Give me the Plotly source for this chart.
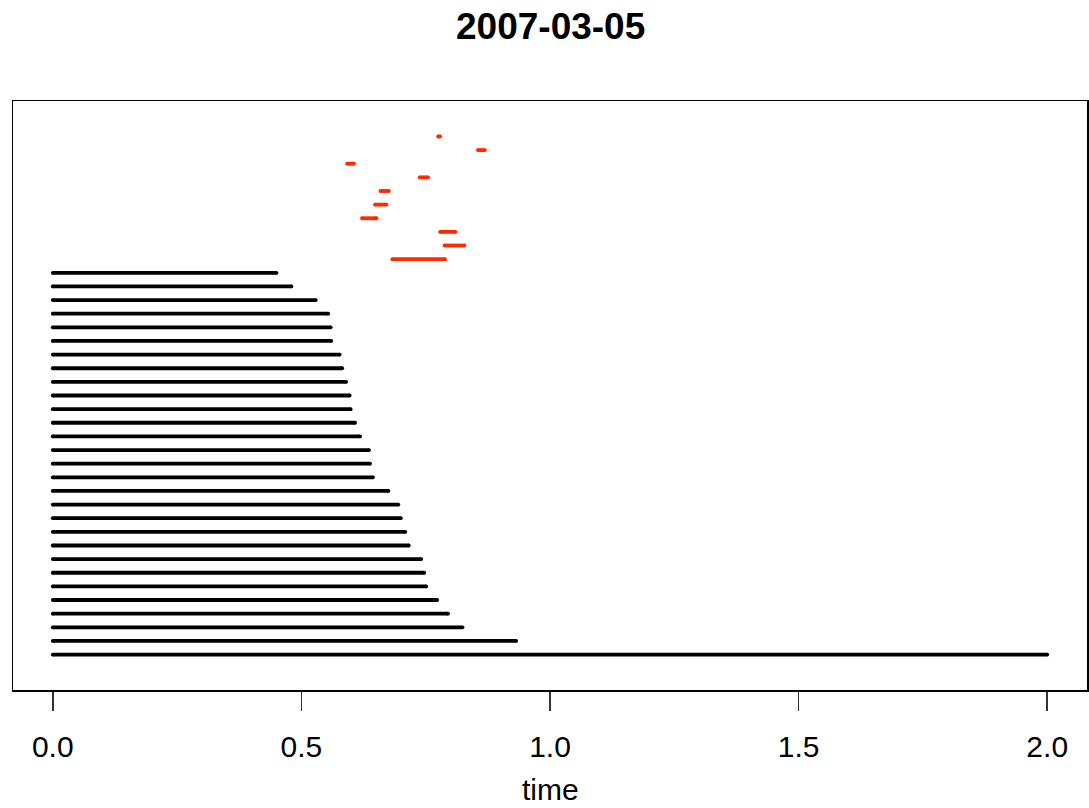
import plotly.graph_objects as go

# Black segments: all start at time 0, one per level (levels 1..29, bottom to top)
black_levels = list(range(1, 30))
black_start = [0.0] * 29
black_end = [2.0, 0.932, 0.824, 0.795, 0.773, 0.751, 0.747, 0.741, 0.716, 0.709,
             0.700, 0.695, 0.675, 0.644, 0.638, 0.636, 0.618, 0.608, 0.599, 0.597,
             0.590, 0.582, 0.577, 0.560, 0.559, 0.554, 0.529, 0.480, 0.450]

# Red segments (levels 30..39)
red_levels = list(range(30, 40))
red_start = [0.683, 0.788, 0.779, 0.622, 0.648, 0.659, 0.738, 0.592, 0.855, 0.775]
red_end = [0.789, 0.828, 0.810, 0.651, 0.671, 0.676, 0.755, 0.606, 0.869, 0.779]

x_ticks = [0.0, 0.5, 1.0, 1.5, 2.0]
x_ticklabels = ["0.0", "0.5", "1.0", "1.5", "2.0"]

title_text = "2007-03-05"
xlabel_text = "time"

LW = 3.8
BLACK = "#000000"
RED = "#FF2A00"


def seg_xy(starts, ends, levels):
    xs, ys, mx, my = [], [], [], []
    for s, e, l in zip(starts, ends, levels):
        xs += [s, e, None]
        ys += [l, l, None]
        mx += [s, e]
        my += [l, l]
    return xs, ys, mx, my


fig = go.Figure()
for starts, ends, levels, col in [(black_start, black_end, black_levels, BLACK),
                                  (red_start, red_end, red_levels, RED)]:
    xs, ys, mx, my = seg_xy(starts, ends, levels)
    fig.add_trace(go.Scatter(x=xs, y=ys, mode="lines",
                             line=dict(color=col, width=LW),
                             hoverinfo="skip", showlegend=False))
    # round caps
    fig.add_trace(go.Scatter(x=mx, y=my, mode="markers",
                             marker=dict(color=col, size=LW, line=dict(width=0)),
                             hoverinfo="skip", showlegend=False))

PH = 589  # plot height in px
fig.update_layout(
    width=1089, height=808,
    margin=dict(l=13, r=2, t=101, b=118, autoexpand=False),
    paper_bgcolor="white", plot_bgcolor="white",
    font=dict(family="Liberation Sans, Arial, Helvetica, sans-serif", color="black"),
    showlegend=False,
    xaxis=dict(range=[-0.08, 2.08], tickvals=x_ticks, ticktext=x_ticklabels,
               ticks="outside", ticklen=19, tickwidth=1.5, tickcolor="#333333",
               tickfont=dict(size=30, color="black"), ticklabelstandoff=10,
               showline=True, mirror=True, linecolor="black", linewidth=1.5,
               showgrid=False, zeroline=False, fixedrange=True),
    yaxis=dict(range=[-1.6, 41.6], showticklabels=False, ticks="",
               showline=True, mirror=True, linecolor="black", linewidth=1.5,
               showgrid=False, zeroline=False, fixedrange=True),
    annotations=[
        dict(text="<b>" + title_text + "</b>", xref="paper", yref="paper",
             x=0.5, y=(690 - 27) / PH, xanchor="center", yanchor="middle",
             showarrow=False, font=dict(size=37, color="black")),
        dict(text=xlabel_text, xref="paper", yref="paper",
             x=0.5, y=(690 - 789) / PH, xanchor="center", yanchor="middle",
             showarrow=False, font=dict(size=30, color="black")),
    ],
)

fig.write_html(
    "out.html",
    config={"displayModeBar": False, "staticPlot": True},
    post_script="document.body.style.margin='0';"
                "document.documentElement.style.overflow='hidden';"
                "document.body.style.overflow='hidden';",
)
